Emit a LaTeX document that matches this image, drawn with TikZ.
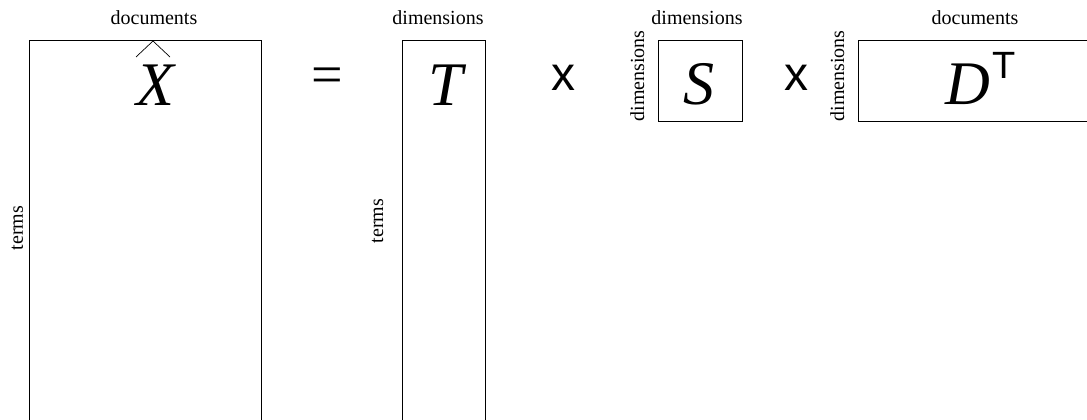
\documentclass[tikz,border=0pt]{standalone}
\usepackage{fontspec}
\setmainfont{Liberation Serif}
\newfontfamily\sansfam{Liberation Sans}
\begin{document}
\begin{tikzpicture}[x=1pt,y=-1pt,
  mat/.style={draw=black, line width=0.9pt, inner sep=0pt, anchor=north west},
  lab/.style={font=\fontsize{20}{24}\selectfont, inner sep=0pt},
  big/.style={font=\fontsize{62}{70}\selectfont\itshape, inner sep=0pt},
  op/.style={font=\sansfam\fontsize{48}{50}\selectfont, inner sep=0pt},
  sup/.style={font=\sansfam\fontsize{38}{40}\selectfont, inner sep=0pt}]
\useasboundingbox (0,0) rectangle (1087,420);
\clip (0,0) rectangle (1087,420);
% matrices
\node[mat, minimum width=232pt, minimum height=420pt] (Xm) at (29,40) {};
\node[mat, minimum width=83pt, minimum height=420pt] (Tm) at (402,40) {};
\node[mat, minimum width=84pt, minimum height=81pt] (Sm) at (658,40) {};
\node[mat, minimum width=260pt, minimum height=81pt] (Dm) at (858,40) {};
% top labels
\node[lab, anchor=base] (lX) at (154,25) {documents};
\node[lab, anchor=base] (lT) at (438,25) {dimensions};
\node[lab, anchor=base] (lS) at (697,25) {dimensions};
\node[lab, anchor=base] (lD) at (975,25) {documents};
% side labels
\node[lab, rotate=90, anchor=base] (sX) at (23,228) {terms};
\node[lab, rotate=90, anchor=base] (sT) at (383,221) {terms};
\node[lab, rotate=90, anchor=base] (sS) at (644,76) {dimensions};
\node[lab, rotate=90, anchor=base] (sD) at (844,76) {dimensions};
% symbols
\node[big, anchor=base] (Xl) at (155,106) {X};
\draw[line width=0.7pt] (136,57) -- (153,41) -- (170,57);
\node[big, anchor=base] (Tl) at (446,106) {T};
\node[big, anchor=base] (Sl) at (699,104) {S};
\node[big, anchor=base] (Dl) at (968,104) {D};
\node[sup, anchor=base] (DT) at (1004,78) {T};
\node[font=\fontsize{56}{60}\selectfont, inner sep=0pt] (eq) at (327,81) {=};
\node[op, anchor=base] (x1) at (563,90) {x};
\node[op, anchor=base] (x2) at (796,90) {x};
\end{tikzpicture}
\end{document}
